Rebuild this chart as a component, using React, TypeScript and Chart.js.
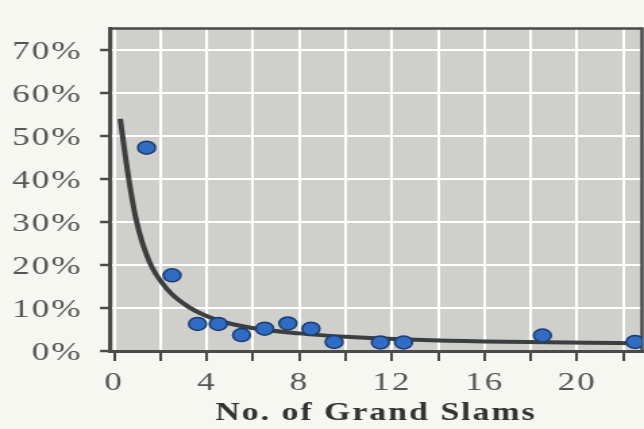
import React, { useEffect, useRef } from 'react';
import { Chart, registerables } from 'chart.js';

Chart.register(...registerables);

// ---- data ----
const pointX = [1.4, 2.5, 3.6, 4.5, 5.5, 6.5, 7.5, 8.5, 9.5, 11.5, 12.5, 18.5, 22.5];
const pointY = [47.3, 17.6, 6.3, 6.3, 3.7, 5.2, 6.4, 5.2, 2.1, 2.0, 2.0, 3.6, 2.1];

const curveX = [0.26, 0.6, 0.95, 1.5, 2.3, 3.2, 4.4, 5.9, 8.0, 10, 13, 16, 22.8];
const curveY = [54.0, 41.0, 30.5, 21.0, 14.3, 10.3, 7.3, 5.4, 4.1, 3.3, 2.6, 2.2, 1.8];

const xTitle = 'No. of Grand Slams';
const xMin = -0.18;
const xMax = 22.8;
const xStep = 2;
const xLabelEvery = 4;
const yMin = 0;
const yMax = 75;
const yStep = 10;

// ---- page geometry ----
const PAGE_W = 644;
const PAGE_H = 429;
const STRETCH = 1.35;
const CANVAS_W = Math.round(PAGE_W / STRETCH);
const SX = PAGE_W / CANVAS_W;

const FONT = "'Liberation Serif', 'Times New Roman', serif";

const framePlugin = {
  id: 'frame',
  beforeDraw(chart: any) {
    const { ctx, chartArea } = chart;
    const { left, top, right, bottom } = chartArea;
    ctx.save();
    ctx.fillStyle = '#f7f7f2';
    ctx.fillRect(0, 0, chart.width, chart.height);
    ctx.fillStyle = '#cfcfcb';
    ctx.fillRect(left, top, right - left, bottom - top);
    ctx.restore();
    try { ctx.letterSpacing = '1.5px'; } catch (e) {}
  },
  beforeDatasetsDraw(chart: any) {
    const { ctx, chartArea } = chart;
    const { left, top, right, bottom } = chartArea;
    ctx.save();
    ctx.strokeStyle = '#4a4a4a';
    ctx.lineWidth = 2.5;
    ctx.beginPath();
    ctx.moveTo(left, top);
    ctx.lineTo(right, top);
    ctx.lineTo(right, bottom);
    ctx.stroke();
    ctx.restore();
  },
  afterDraw(chart: any) {
    try { chart.ctx.letterSpacing = '0px'; } catch (e) {}
  },
};

export default function App() {
  const canvasRef = useRef<HTMLCanvasElement | null>(null);

  useEffect(() => {
    if (!canvasRef.current) return;
    const points = pointX.map((x, i) => ({ x, y: pointY[i] }));
    const curve = curveX.map((x, i) => ({ x, y: curveY[i] }));

    const chart = new Chart(canvasRef.current, {
      type: 'scatter',
      data: {
        datasets: [
          {
            data: points,
            backgroundColor: '#2f6cc2',
            borderColor: '#1d3c72',
            borderWidth: 1.5,
            pointRadius: 6.5,
            pointHoverRadius: 6.5,
          },
          {
            data: curve,
            showLine: true,
            pointRadius: 0,
            pointHoverRadius: 0,
            borderColor: '#3b3f3f',
            borderWidth: 4,
            borderCapStyle: 'butt',
            borderJoinStyle: 'round',
            cubicInterpolationMode: 'monotone',
            fill: false,
          } as any,
        ],
      },
      options: {
        animation: false,
        responsive: false,
        devicePixelRatio: 1,
        events: [],
        layout: { autoPadding: false, padding: { top: 13, right: 1.5, left: 0, bottom: 0 } },
        plugins: {
          legend: { display: false },
          tooltip: { enabled: false },
          title: { display: false },
        },
        scales: {
          x: {
            type: 'linear',
            min: xMin,
            max: xMax,
            afterFit: (scale: any) => { scale.height = 78; },
            grid: {
              color: '#ffffff',
              lineWidth: 2,
              drawTicks: true,
              tickLength: 10,
              tickWidth: 2,
              tickColor: '#4a4a4a',
            },
            border: { display: true, color: '#4a4a4a', width: 3 },
            ticks: {
              stepSize: xStep,
              includeBounds: false,
              autoSkip: false,
              maxRotation: 0,
              padding: 7,
              color: '#555555',
              font: { family: FONT, size: 26 },
              callback: (v: any) => (Number(v) % xLabelEvery === 0 ? String(v) : ''),
            },
            title: {
              display: true,
              text: xTitle,
              color: '#333333',
              font: { family: FONT, size: 25, weight: 'bold' },
              padding: { top: 0, bottom: 0 },
            },
          },
          y: {
            type: 'linear',
            min: yMin,
            max: yMax,
            afterFit: (scale: any) => { scale.width = 81.5; },
            grid: {
              color: '#ffffff',
              lineWidth: 2,
              drawTicks: true,
              tickLength: 7.4,
              tickWidth: 2.5,
              tickColor: '#4a4a4a',
            },
            border: { display: true, color: '#4a4a4a', width: 3 },
            ticks: {
              stepSize: yStep,
              includeBounds: false,
              autoSkip: false,
              padding: 13,
              labelOffset: 2,
              color: '#555555',
              font: { family: FONT, size: 26 },
              callback: (v: any) => `${v}%`,
            },
          },
        },
      } as any,
      plugins: [framePlugin],
    });

    return () => chart.destroy();
  }, []);

  return (
    <div
      style={{
        position: 'fixed',
        left: 0,
        top: 0,
        width: PAGE_W,
        height: PAGE_H,
        background: '#f7f7f2',
        overflow: 'hidden',
      }}
    >
      <div
        style={{
          position: 'absolute',
          left: 0,
          top: 0,
          width: CANVAS_W,
          height: PAGE_H,
          transform: `scaleX(${SX})`,
          transformOrigin: '0 0',
        }}
      >
        <canvas
          ref={canvasRef}
          width={CANVAS_W}
          height={PAGE_H}
          style={{ width: CANVAS_W, height: PAGE_H, display: 'block' }}
        />
      </div>
    </div>
  );
}
